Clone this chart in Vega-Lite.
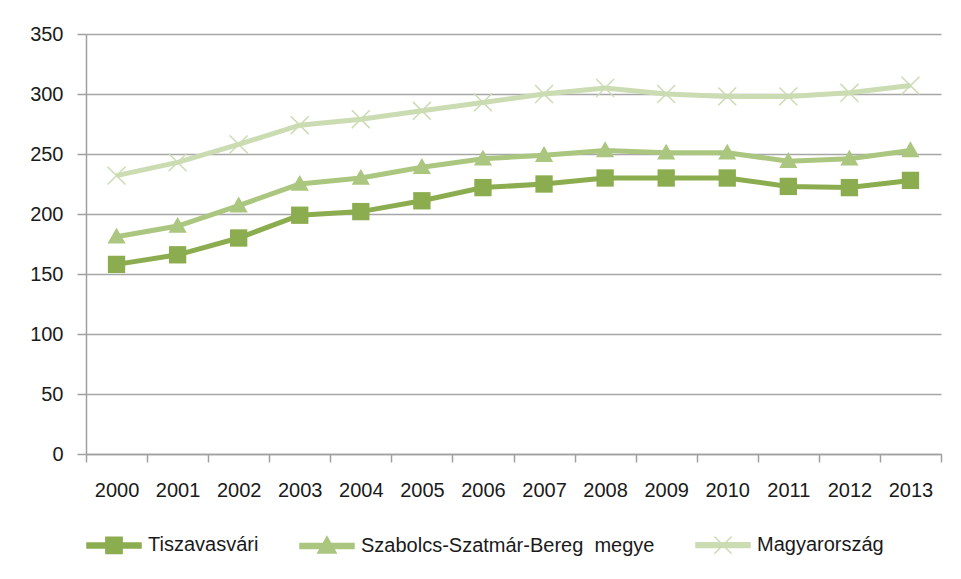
{
  "$schema": "https://vega.github.io/schema/vega-lite/v6.json",
  "autosize": "none",
  "width": 855,
  "height": 420,
  "padding": {"left": 86, "top": 34, "right": 20, "bottom": 125},
  "background": "white",
  "config": {
    "font": "Liberation Sans",
    "view": {"stroke": null},
    "axis": {"labelFont": "Liberation Sans", "labelFontSize": 20, "labelColor": "#1a1a1a"}
  },
  "data": {
    "values": [
      {"year": "2000", "series": "Tiszavasvári", "value": 158},
      {"year": "2001", "series": "Tiszavasvári", "value": 166},
      {"year": "2002", "series": "Tiszavasvári", "value": 180},
      {"year": "2003", "series": "Tiszavasvári", "value": 199},
      {"year": "2004", "series": "Tiszavasvári", "value": 202},
      {"year": "2005", "series": "Tiszavasvári", "value": 211},
      {"year": "2006", "series": "Tiszavasvári", "value": 222},
      {"year": "2007", "series": "Tiszavasvári", "value": 225},
      {"year": "2008", "series": "Tiszavasvári", "value": 230},
      {"year": "2009", "series": "Tiszavasvári", "value": 230},
      {"year": "2010", "series": "Tiszavasvári", "value": 230},
      {"year": "2011", "series": "Tiszavasvári", "value": 223},
      {"year": "2012", "series": "Tiszavasvári", "value": 222},
      {"year": "2013", "series": "Tiszavasvári", "value": 228},
      {"year": "2000", "series": "Szabolcs-Szatmár-Bereg\u00a0 megye", "value": 181},
      {"year": "2001", "series": "Szabolcs-Szatmár-Bereg\u00a0 megye", "value": 190},
      {"year": "2002", "series": "Szabolcs-Szatmár-Bereg\u00a0 megye", "value": 207},
      {"year": "2003", "series": "Szabolcs-Szatmár-Bereg\u00a0 megye", "value": 225},
      {"year": "2004", "series": "Szabolcs-Szatmár-Bereg\u00a0 megye", "value": 230},
      {"year": "2005", "series": "Szabolcs-Szatmár-Bereg\u00a0 megye", "value": 239},
      {"year": "2006", "series": "Szabolcs-Szatmár-Bereg\u00a0 megye", "value": 246},
      {"year": "2007", "series": "Szabolcs-Szatmár-Bereg\u00a0 megye", "value": 249},
      {"year": "2008", "series": "Szabolcs-Szatmár-Bereg\u00a0 megye", "value": 253},
      {"year": "2009", "series": "Szabolcs-Szatmár-Bereg\u00a0 megye", "value": 251},
      {"year": "2010", "series": "Szabolcs-Szatmár-Bereg\u00a0 megye", "value": 251},
      {"year": "2011", "series": "Szabolcs-Szatmár-Bereg\u00a0 megye", "value": 244},
      {"year": "2012", "series": "Szabolcs-Szatmár-Bereg\u00a0 megye", "value": 246},
      {"year": "2013", "series": "Szabolcs-Szatmár-Bereg\u00a0 megye", "value": 253},
      {"year": "2000", "series": "Magyarország", "value": 232},
      {"year": "2001", "series": "Magyarország", "value": 243},
      {"year": "2002", "series": "Magyarország", "value": 258},
      {"year": "2003", "series": "Magyarország", "value": 274},
      {"year": "2004", "series": "Magyarország", "value": 279},
      {"year": "2005", "series": "Magyarország", "value": 286},
      {"year": "2006", "series": "Magyarország", "value": 293},
      {"year": "2007", "series": "Magyarország", "value": 300},
      {"year": "2008", "series": "Magyarország", "value": 305},
      {"year": "2009", "series": "Magyarország", "value": 300},
      {"year": "2010", "series": "Magyarország", "value": 298},
      {"year": "2011", "series": "Magyarország", "value": 298},
      {"year": "2012", "series": "Magyarország", "value": 301},
      {"year": "2013", "series": "Magyarország", "value": 307}
    ]
  },
  "encoding": {
    "x": {
      "field": "year", "type": "ordinal", "bandPosition": 0.5,
      "scale": {"type": "band", "paddingInner": 0, "paddingOuter": 0},
      "axis": {
        "title": null, "labelAngle": 0, "tickBand": "extent",
        "domainColor": "#a0a0a0", "domainWidth": 1.5,
        "tickColor": "#a0a0a0", "tickWidth": 1.5, "tickSize": 8,
        "labelPadding": 18
      }
    },
    "y": {
      "field": "value", "type": "quantitative",
      "scale": {"domain": [0, 350], "nice": false},
      "axis": {
        "title": null, "values": [0, 50, 100, 150, 200, 250, 300, 350],
        "grid": true, "gridColor": "#a6a6a6", "gridWidth": 1.5,
        "domainColor": "#a0a0a0", "domainWidth": 1.5,
        "tickColor": "#a0a0a0", "tickWidth": 1.5, "tickSize": 9,
        "labelPadding": 14
      }
    },
    "color": {
      "field": "series", "type": "nominal",
      "scale": {
        "domain": ["Tiszavasvári", "Szabolcs-Szatmár-Bereg\u00a0 megye", "Magyarország"],
        "range": ["#8cad4f", "#aac67f", "#cbdcb2"]
      },
      "legend": {
        "title": null, "orient": "none", "direction": "horizontal",
        "legendX": 0, "legendY": 483,
        "labelFontSize": 20, "labelColor": "#1a1a1a", "labelFont": "Liberation Sans",
        "labelLimit": 500,
        "symbolSize": 2916, "labelOffset": 6, "columnPadding": 38,
        "encode": {
          "symbols": {
            "update": {
              "shape": {"signal": "datum.value === 'Tiszavasvári' ? 'M-1,-0.09H1V0.09H-1Z M-0.3,-0.3H0.3V0.3H-0.3Z' : (datum.value === 'Magyarország' ? 'M-1,-0.09H1V0.09H-1Z M-0.32,-0.32L0.32,0.32 M-0.32,0.32L0.32,-0.32' : 'M-1,-0.09H1V0.09H-1Z M0,-0.34L0.34,0.26H-0.34Z')"},
              "fill": {"scale": "color", "field": "value"},
              "stroke": {"scale": "color", "field": "value"},
              "strokeWidth": {"value": 1.5},
              "fillOpacity": {"value": 1},
              "opacity": {"value": 1}
            }
          }
        }
      }
    }
  },
  "layer": [
    {
      "mark": {"type": "line", "strokeWidth": 5}
    },
    {
      "transform": [{"filter": "datum.series === 'Tiszavasvári'"}],
      "mark": {"type": "point", "filled": true, "opacity": 1, "size": 300, "shape": "M-1,-1H1V1H-1Z"}
    },
    {
      "transform": [{"filter": "datum.series === 'Szabolcs-Szatmár-Bereg\u00a0 megye'"}],
      "mark": {"type": "point", "filled": true, "opacity": 1, "size": 330, "shape": "M0,-1L1,0.75H-1Z"}
    },
    {
      "transform": [{"filter": "datum.series === 'Magyarország'"}],
      "mark": {"type": "point", "filled": false, "opacity": 1, "size": 320, "strokeWidth": 1.5, "shape": "M-1,-1L1,1M-1,1L1,-1"}
    }
  ]
}
